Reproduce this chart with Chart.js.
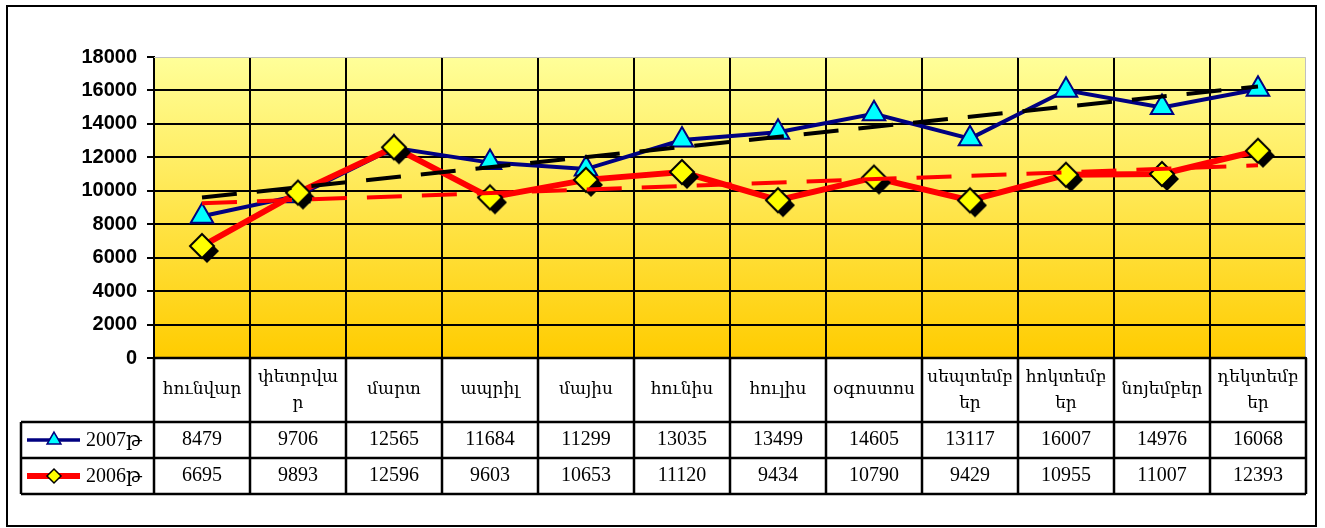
<!DOCTYPE html>
<html>
<head>
<meta charset="utf-8">
<script src="https://cdn.jsdelivr.net/npm/chart.js@4.4.0/dist/chart.umd.min.js"></script>
<style>
  html, body { margin: 0; padding: 0; background: #fff; }
  #wrap { position: relative; width: 1325px; height: 528px; }
</style>
</head>
<body>
<div id="wrap"><canvas id="chart"></canvas></div>
<script>
// Categories (months)
const months = [
  "հունվար", "փետրվար", "մարտ", "ապրիլ", "մայիս", "հունիս",
  "հուլիս", "օգոստոս", "սեպտեմբեր", "հոկտեմբեր", "նոյեմբեր", "դեկտեմբեր",
];

// Month names as they wrap in the table header
const monthLines = [
  ["հունվար"], ["փետրվա", "ր"], ["մարտ"], ["ապրիլ"], ["մայիս"], ["հունիս"],
  ["հուլիս"], ["օգոստոս"], ["սեպտեմբ", "եր"], ["հոկտեմբ", "եր"], ["նոյեմբեր"], ["դեկտեմբ", "եր"],
];

// Series names and values
const seriesNames = ["2007թ", "2006թ"];
const values2007 = [8479, 9706, 12565, 11684, 11299, 13035, 13499, 14605, 13117, 16007, 14976, 16068];
const values2006 = [6695, 9893, 12596, 9603, 10653, 11120, 9434, 10790, 9429, 10955, 11007, 12393];

// Trend lines, start (first month) and end (last month) values
const trend2007 = [9600, 16240];
const trend2006 = [9250, 11520];

// Y axis ticks
const yMin = 0;
const yMax = 18000;
const yStep = 2000;

const serifFont = '"Liberation Serif", "DejaVu Serif", serif';

// Yellow diamond with a black drop shadow, used as point style
function makeDiamond(r, shadow) {
  const half = r + shadow + 2;
  const c = document.createElement("canvas");
  c.width = c.height = half * 2;
  const g = c.getContext("2d");
  const path = (ox, oy) => {
    g.beginPath();
    g.moveTo(half + ox, half - r + oy);
    g.lineTo(half + r + ox, half + oy);
    g.lineTo(half + ox, half + r + oy);
    g.lineTo(half - r + ox, half + oy);
    g.closePath();
  };
  path(shadow, shadow);
  g.fillStyle = "#000";
  g.fill();
  path(0, 0);
  g.fillStyle = "#FFFF00";
  g.fill();
  g.lineWidth = 2;
  g.strokeStyle = "#000";
  g.stroke();
  return c;
}

// Gradient plot background and thin grey plot border
const backgroundPlugin = {
  id: "plotBackground",
  beforeDraw(chart) {
    const { ctx, chartArea: ca } = chart;
    const grad = ctx.createLinearGradient(0, ca.top, 0, ca.bottom);
    grad.addColorStop(0, "#FFFF99");
    grad.addColorStop(1, "#FFCC00");
    ctx.save();
    ctx.fillStyle = grad;
    ctx.fillRect(ca.left, ca.top, ca.right - ca.left, ca.bottom - ca.top);
    ctx.restore();
  },
  beforeDatasetsDraw(chart) {
    const { ctx, chartArea: ca } = chart;
    ctx.save();
    ctx.strokeStyle = "#C0C0C0";
    ctx.lineWidth = 1;
    ctx.beginPath();
    ctx.moveTo(ca.left, ca.top + 0.5);
    ctx.lineTo(ca.right - 0.5, ca.top + 0.5);
    ctx.lineTo(ca.right - 0.5, ca.bottom);
    ctx.stroke();
    ctx.restore();
  },
};

// Data table under the plot (month header, legend keys, values) and outer frame
const tablePlugin = {
  id: "dataTable",
  afterDraw(chart) {
    const { ctx, chartArea: ca } = chart;
    const x = chart.scales.x;
    const colW = (ca.right - ca.left) / months.length;
    const headTop = ca.bottom;
    const headBot = headTop + 64;
    const rowH = 36;
    const legLeft = 21;
    const rows = [
      { name: seriesNames[0], values: values2007 },
      { name: seriesNames[1], values: values2006 },
    ];
    const tableBot = headBot + rowH * rows.length;

    ctx.save();
    ctx.strokeStyle = "#000";
    ctx.lineWidth = 2.5;
    ctx.beginPath();
    ctx.moveTo(ca.left, headTop);
    ctx.lineTo(ca.right, headTop);
    for (let r = 0; r <= rows.length; r++) {
      ctx.moveTo(legLeft, headBot + r * rowH);
      ctx.lineTo(ca.right, headBot + r * rowH);
    }
    for (let i = 0; i <= months.length; i++) {
      const px = i < months.length ? x.getPixelForValue(i) - colW / 2 : x.getPixelForValue(i - 1) + colW / 2;
      ctx.moveTo(px, headTop);
      ctx.lineTo(px, tableBot);
    }
    ctx.moveTo(legLeft, headBot);
    ctx.lineTo(legLeft, tableBot);
    ctx.stroke();

    // month header
    ctx.fillStyle = "#000";
    ctx.textAlign = "center";
    ctx.textBaseline = "middle";
    ctx.font = "17px " + serifFont;
    const headMid = (headTop + headBot) / 2;
    monthLines.forEach((lines, i) => {
      const cx = x.getPixelForValue(i);
      if (lines.length === 1) {
        ctx.fillText(lines[0], cx, headMid);
      } else {
        ctx.fillText(lines[0], cx, headMid - 12);
        ctx.fillText(lines[1], cx, headMid + 14);
      }
    });

    // values
    ctx.font = "20px " + serifFont;
    rows.forEach((row, r) => {
      const cy = headBot + r * rowH + rowH / 2;
      row.values.forEach((v, i) => {
        ctx.fillText(String(v), x.getPixelForValue(i), cy);
      });
    });

    // legend keys
    rows.forEach((row, r) => {
      const cy = headBot + r * rowH + rowH / 2;
      const ds = chart.data.datasets.find((d) => d.label === row.name);
      ctx.strokeStyle = ds.borderColor;
      ctx.lineWidth = r === 0 ? 3.5 : 6;
      ctx.beginPath();
      ctx.moveTo(27, cy);
      ctx.lineTo(80, cy);
      ctx.stroke();
      if (r === 0) {
        ctx.fillStyle = "#00FFFF";
        ctx.strokeStyle = "#000080";
        ctx.lineWidth = 1.5;
        Chart.helpers.drawPoint(ctx, { pointStyle: "triangle", radius: 8, rotation: 0, borderWidth: 1.5 }, 54, cy);
      } else {
        ctx.fillStyle = "#FFFF00";
        ctx.strokeStyle = "#000";
        ctx.lineWidth = 1.5;
        Chart.helpers.drawPoint(ctx, { pointStyle: "rectRot", radius: 7, rotation: 0, borderWidth: 1.5 }, 54, cy);
      }
      ctx.fillStyle = "#000";
      ctx.textAlign = "left";
      ctx.font = "20px " + serifFont;
      ctx.fillText(row.name, 86, cy + 1);
    });

    // outer frame
    ctx.strokeStyle = "#000";
    ctx.lineWidth = 2;
    ctx.strokeRect(7, 6, 1309, 520);
    ctx.restore();
  },
};

const ctx = document.getElementById("chart").getContext("2d");

new Chart(ctx, {
  type: "line",
  data: {
    labels: months,
    datasets: [
      {
        label: "trend " + seriesNames[0],
        data: [{ x: months[0], y: trend2007[0] }, { x: months[months.length - 1], y: trend2007[1] }],
        borderColor: "#000",
        borderWidth: 4,
        borderDash: [35, 20],
        pointRadius: 0,
        order: 0,
      },
      {
        label: "trend " + seriesNames[1],
        data: [{ x: months[0], y: trend2006[0] }, { x: months[months.length - 1], y: trend2006[1] }],
        borderColor: "#FF0000",
        borderWidth: 4,
        borderDash: [35, 20],
        pointRadius: 0,
        order: 1,
      },
      {
        label: seriesNames[1],
        data: values2006,
        borderColor: "#FF0000",
        borderWidth: 6,
        pointStyle: makeDiamond(12, 5),
        pointRadius: 12,
        order: 2,
      },
      {
        label: seriesNames[0],
        data: values2007,
        borderColor: "#000080",
        borderWidth: 4,
        pointStyle: "triangle",
        pointRadius: 13,
        pointBackgroundColor: "#00FFFF",
        pointBorderColor: "#000080",
        pointBorderWidth: 2,
        order: 3,
      },
    ],
  },
  options: {
    responsive: true,
    maintainAspectRatio: false,
    animation: false,
    layout: {
      padding: { top: 57, right: 19, bottom: 170, left: 0 },
    },
    scales: {
      x: {
        offset: true,
        ticks: { display: false },
        grid: {
          offset: true,
          drawTicks: false,
          lineWidth: 2,
          color: (c) => (c.type === "tick" ? "#000" : "rgba(0,0,0,0)"),
        },
        border: { color: "#000", width: 2 },
        afterFit: (s) => { s.height = 0; },
      },
      y: {
        min: yMin,
        max: yMax,
        ticks: {
          stepSize: yStep,
          color: "#000",
          padding: 10,
          callback: (v) => String(v),
          font: { family: '"Liberation Sans", Arial, sans-serif', size: 20, weight: "bold" },
        },
        grid: {
          lineWidth: 2,
          tickLength: 7,
          tickColor: "#000",
          color: (c) => (c.tick && c.tick.value === yMax ? "rgba(0,0,0,0)" : "#000"),
        },
        border: { color: "#000", width: 2 },
        afterFit: (s) => { s.width = 154; },
      },
    },
    plugins: {
      legend: { display: false },
      tooltip: { enabled: false },
    },
  },
  plugins: [backgroundPlugin, tablePlugin],
});
</script>
</body>
</html>
